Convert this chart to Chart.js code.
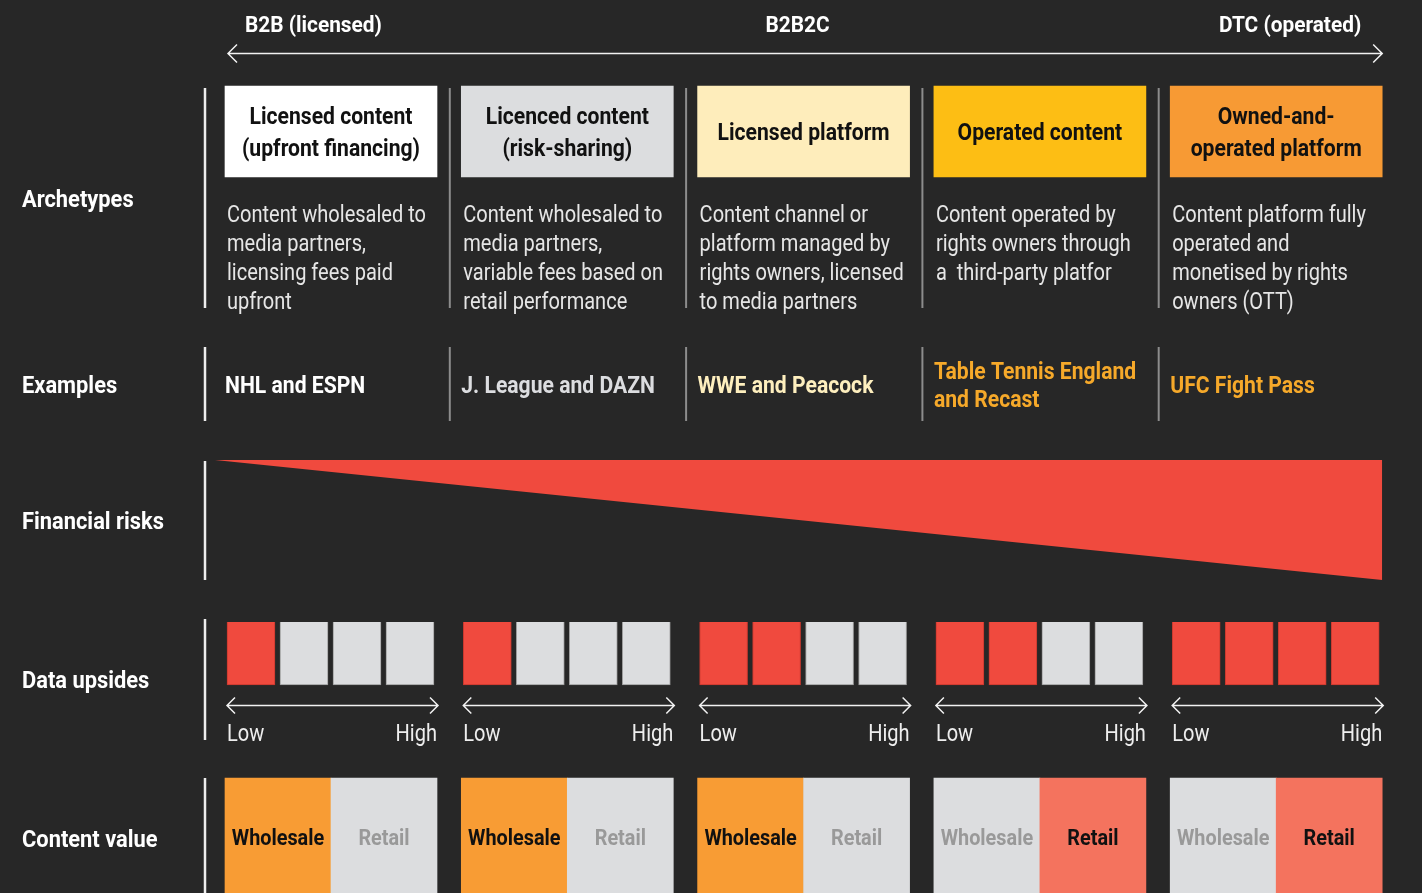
<!DOCTYPE html>
<html>
<head>
<meta charset="utf-8">
<script src="https://cdn.jsdelivr.net/npm/chart.js@4/dist/chart.umd.min.js"></script>
<style>
  html, body { margin: 0; background: #272727; }
  canvas { display: block; }
</style>
</head>
<body>
<canvas id="chart" width="1422" height="893"></canvas>
<script>
var groups = ['B2B (licensed)', 'B2B2C', 'DTC (operated)'];
var rowLabels = ['Archetypes', 'Examples', 'Financial risks', 'Data upsides', 'Content value'];
var archetypes = [
  ['Licensed content', '(upfront financing)'],
  ['Licenced content', '(risk-sharing)'],
  ['Licensed platform'],
  ['Operated content'],
  ['Owned-and-', 'operated platform']
];
var descriptions = [
  ['Content wholesaled to', 'media partners,', 'licensing fees paid', 'upfront'],
  ['Content wholesaled to', 'media partners,', 'variable fees based on', 'retail performance'],
  ['Content channel or', 'platform managed by', 'rights owners, licensed', 'to media partners'],
  ['Content operated by', 'rights owners through', 'a  third-party platfor'],
  ['Content platform fully', 'operated and', 'monetised by rights', 'owners (OTT)']
];
var examples = [
  ['NHL and ESPN'],
  ['J. League and DAZN'],
  ['WWE and Peacock'],
  ['Table Tennis England', 'and Recast'],
  ['UFC Fight Pass']
];
var financialRisk = [0, 1];          // from B2B end to DTC end
var dataUpside = [1, 1, 2, 2, 4];    // filled cells out of upsideMax
var upsideMax = 4;
var upsideEnds = ['Low', 'High'];
var valueSides = ['Wholesale', 'Retail'];
var contentValue = ['Wholesale', 'Wholesale', 'Wholesale', 'Retail', 'Retail'];

var archColors = ['#ffffff', '#dcdddf', '#feedbb', '#fdbe14', '#f79a34'];
var exampleColors = ['#ffffff', '#dcdde0', '#feefbe', '#f6a92a', '#f6a92a'];
var RED = '#f04a3e', GRAY = '#dcdddf', ORANGE = '#f89c34', SALMON = '#f4735e';
var FONT = 'Roboto, "Liberation Sans", sans-serif';

// layout: x in column units (col i spans i .. i+COLW), y in pixel rows
var PITCH = 236.3, LEFT = 225, COLW = 212 / PITCH;
var boxRow = [86, 177], upsideRow = [622, 685], valueRow = [778, 900];

var boxData = archetypes.map(function(a, i) {
  return { x: i + COLW / 2, y: boxRow };
});

var upsideData = [], upsideColors = [], upsideBorders = [];
dataUpside.forEach(function(level, i) {
  for (var k = 0; k < upsideMax; k++) {
    upsideData.push({ x: i + (26 + 53 * k) / PITCH, y: upsideRow });
    upsideColors.push(k < level ? RED : GRAY);
    upsideBorders.push(k < level ? '#c8382e' : '#9a9a9a');
  }
});

var valueData = [], valueColors = [];
contentValue.forEach(function(v, i) {
  valueSides.forEach(function(side, s) {
    valueData.push({ x: i + COLW * (2 * s + 1) / 4, y: valueRow });
    valueColors.push(side !== v ? GRAY : (side === 'Wholesale' ? ORANGE : SALMON));
  });
});

function arrow(ctx, x0, x1, y, head) {
  ctx.beginPath();
  ctx.moveTo(x0, y); ctx.lineTo(x1, y);
  ctx.moveTo(x0 + head, y - head); ctx.lineTo(x0, y); ctx.lineTo(x0 + head, y + head);
  ctx.moveTo(x1 - head, y - head); ctx.lineTo(x1, y); ctx.lineTo(x1 - head, y + head);
  ctx.stroke();
}

// the original uses a condensed face, so squeeze the text horizontally
var squeeze = {};
function condensed(ctx, weight) {
  if (!squeeze[weight]) {
    ctx.font = weight + ' 23px ' + FONT;
    squeeze[weight] = weight === 'bold'
      ? 163 / ctx.measureText('Licensed content').width
      : 199 / ctx.measureText('Content wholesaled to').width;
  }
  return squeeze[weight];
}
function text(ctx, s, x, y, align, weight, size) {
  var sx = condensed(ctx, weight);
  ctx.save();
  ctx.font = weight + ' ' + size + 'px ' + FONT;
  ctx.translate(x, y + 2);
  ctx.scale(sx, 1);
  ctx.textAlign = align;
  ctx.textBaseline = 'middle';
  ctx.fillText(s, 0, 0);
  ctx.restore();
}

var frame = {
  id: 'frame',
  beforeDatasetsDraw: function(chart) {
    var ctx = chart.ctx, xs = chart.scales.x;
    ctx.save();
    ctx.strokeStyle = '#f2f2f2';
    ctx.lineWidth = 1.5;
    arrow(ctx, xs.getPixelForValue(0) + 3, xs.getPixelForValue(4 + COLW), 53.5, 9);
    // separators
    var spans = [[88, 308], [347, 421], [461, 580], [619, 740], [778, 893]];
    spans.forEach(function(sp, r) {
      ctx.strokeStyle = '#eeeeee';
      ctx.lineWidth = 2.5;
      ctx.beginPath();
      ctx.moveTo(205, sp[0]); ctx.lineTo(205, sp[1]); ctx.stroke();
      if (r < 2) {
        ctx.strokeStyle = '#8c8c8c';
        ctx.lineWidth = 2;
        for (var i = 1; i < 5; i++) {
          var x = xs.getPixelForValue(i) - 11.5;
          ctx.beginPath(); ctx.moveTo(x, sp[0]); ctx.lineTo(x, sp[1]); ctx.stroke();
        }
      }
    });
    ctx.restore();
  },
  afterDatasetsDraw: function(chart) {
    var ctx = chart.ctx, xs = chart.scales.x;
    function px(v) { return xs.getPixelForValue(v); }
    ctx.save();

    // header
    ctx.fillStyle = '#ffffff';
    text(ctx, groups[0], px(0) + 20, 24, 'left', 'bold', 22.7);
    text(ctx, groups[1], px(2 + COLW / 2) - 6, 24, 'center', 'bold', 22.7);
    text(ctx, groups[2], px(4 + COLW) - 21, 24, 'right', 'bold', 22.7);

    // row labels
    var rowY = [199, 385, 521, 680, 839];
    rowLabels.forEach(function(r, k) { text(ctx, r, 22, rowY[k], 'left', 'bold', 23.8); });

    for (var i = 0; i < 5; i++) {
      var left = px(i), right = px(i + COLW), mid = px(i + COLW / 2);
      // archetype titles
      ctx.fillStyle = '#111111';
      var t = archetypes[i];
      t.forEach(function(line, k) {
        text(ctx, line, mid, 132 + (k - (t.length - 1) / 2) * 32, 'center', 'bold', 23);
      });
      // descriptions
      ctx.fillStyle = '#e6e6e6';
      descriptions[i].forEach(function(line, k) {
        text(ctx, line, left + 2, 214 + k * 29, 'left', 'normal', 23);
      });
      // examples
      ctx.fillStyle = exampleColors[i];
      var ex = examples[i];
      ex.forEach(function(line, k) {
        text(ctx, line, left, 385 + (k - (ex.length - 1) / 2) * 28, 'left', 'bold', 23);
      });
      // data upside arrows
      ctx.strokeStyle = '#f2f2f2';
      ctx.lineWidth = 1.5;
      arrow(ctx, left + 2, right + 1, 705.5, 8);
      ctx.fillStyle = '#eeeeee';
      text(ctx, upsideEnds[0], left + 2, 733, 'left', 'normal', 23);
      text(ctx, upsideEnds[1], right, 733, 'right', 'normal', 23);
      // content value labels
      valueSides.forEach(function(side, s) {
        ctx.fillStyle = side === contentValue[i] ? '#111111' : '#999999';
        text(ctx, side, px(i + COLW * (2 * s + 1) / 4), 838, 'center', 'bold', 21.6);
      });
    }
    ctx.restore();
  }
};

new Chart(document.getElementById('chart').getContext('2d'), {
  type: 'bar',
  data: {
    datasets: [
      {
        type: 'line',
        yAxisID: 'yRisk',
        data: [{ x: -10 / PITCH, y: financialRisk[0] }, { x: 4 + COLW, y: financialRisk[1] }],
        fill: 'origin',
        backgroundColor: RED,
        borderWidth: 0,
        pointRadius: 0
      },
      {
        data: boxData,
        backgroundColor: archColors,
        barThickness: 212,
        grouped: false
      },
      {
        data: upsideData,
        backgroundColor: upsideColors,
        borderColor: upsideBorders,
        borderWidth: 1,
        barThickness: 48,
        grouped: false
      },
      {
        data: valueData,
        backgroundColor: valueColors,
        barThickness: 106,
        grouped: false
      }
    ]
  },
  options: {
    responsive: false,
    animation: false,
    devicePixelRatio: 1,
    layout: { padding: 0 },
    plugins: { legend: { display: false }, tooltip: { enabled: false } },
    scales: {
      x: { type: 'linear', display: false, offset: false, min: -LEFT / PITCH, max: (1422 - LEFT) / PITCH },
      y: { type: 'linear', display: false, reverse: true, min: 0, max: 893 },
      // risk 0 sits at the top edge of the band (460px), risk 1 at its bottom (580px)
      yRisk: { type: 'linear', display: false, reverse: true, min: -460 / 120, max: (893 - 460) / 120 }
    }
  },
  plugins: [frame]
});
</script>
</body>
</html>
